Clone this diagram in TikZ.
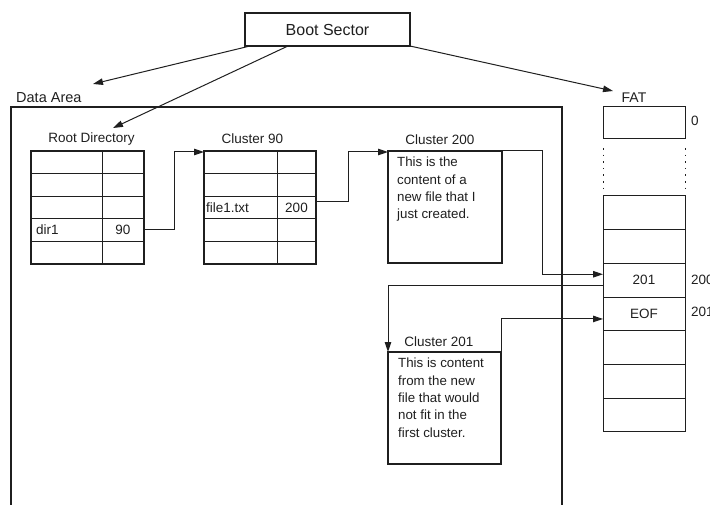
\documentclass[tikz,border=0pt]{standalone}
\usepackage{fontspec}
\setmainfont{Liberation Sans}
\usetikzlibrary{arrows.meta}
\begin{document}
\begin{tikzpicture}[x=1pt,y=-1pt,
  thickbox/.style={draw=black!88,line width=1.8pt,inner sep=0pt,outer sep=0pt},
  thinbox/.style={draw=black!88,line width=1pt,inner sep=0pt,outer sep=0pt},
  thinline/.style={draw=black!88,line width=1pt},
  conn/.style={draw=black!88,line width=1pt,-{Triangle[length=10pt,width=6.5pt]}},
  lbl/.style={text=black!88,font=\fontsize{13.5}{16}\selectfont,inner sep=0pt},
  body/.style={text=black!88,font=\fontsize{13.3}{17.3}\selectfont,inner sep=0pt,align=left,anchor=north west}
]
\useasboundingbox (0,0) rectangle (710,505);
\begin{scope}
\clip (0,0) rectangle (710,505);

% Boot sector
\node[thickbox,minimum width=165pt,minimum height=33pt,font=\fontsize{16}{19}\selectfont,text=black!88] (boot) at (327.5,29.5) {Boot Sector};

% Data area
\node[lbl,font=\fontsize{14.5}{17}\selectfont,anchor=west] (datalbl) at (16,98) {Data Area};
\draw[black!88,line width=1.9pt] (11,520) -- (11,107) -- (562,107) -- (562,520);

% Root directory
\node[lbl] (rootlbl) at (91.5,139) {Root Directory};
\node[thickbox,minimum width=113pt,minimum height=113pt] (root) at (87.5,207.5) {};
\foreach \i in {1,...,4}
  \draw[thinline] ([yshift=-22.6pt*\i]root.north west) -- ([yshift=-22.6pt*\i]root.north east);
\draw[thinline] ([xshift=71pt]root.north west) -- ([xshift=71pt]root.south west);
\node[lbl,anchor=west] (dir1) at (36,230) {dir1};
\node[lbl] (v90) at (123,230) {90};

% Cluster 90
\node[lbl] (c90lbl) at (252.5,139) {Cluster 90};
\node[thickbox,minimum width=112pt,minimum height=113pt] (c90) at (260,207.5) {};
\foreach \i in {1,...,4}
  \draw[thinline] ([yshift=-22.6pt*\i]c90.north west) -- ([yshift=-22.6pt*\i]c90.north east);
\draw[thinline] ([xshift=73pt]c90.north west) -- ([xshift=73pt]c90.south west);
\node[lbl,anchor=west] (file1) at (206,207.5) {file1.txt};
\node[lbl] (v200) at (296.5,207.5) {200};

% Cluster 200
\node[lbl] (c200lbl) at (440,140) {Cluster 200};
\node[thickbox,minimum width=114pt,minimum height=112pt] (c200) at (445,207) {};
\node[body] (c200txt) at (397,157) {This is the\\content of a\\new file that I\\just created.};

% Cluster 201
\node[lbl] (c201lbl) at (439,342) {Cluster 201};
\node[thickbox,minimum width=113pt,minimum height=112pt] (c201) at (444.5,408) {};
\node[body] (c201txt) at (398,358) {This is content\\from the new\\file that would\\not fit in the\\first cluster.};

% FAT
\node[lbl,font=\fontsize{14}{17}\selectfont] (fatlbl) at (634,98) {FAT};
\node[thinbox,minimum width=82pt,minimum height=32pt] (fat0) at (644,123) {};
\node[lbl,anchor=west] (n0) at (691,121) {0};
\draw[black!88,line width=1pt,dash pattern=on 1.6pt off 5pt] (603,148) -- (603,192);
\draw[black!88,line width=1pt,dash pattern=on 1.6pt off 5pt] (685,148) -- (685,192);
\foreach \k in {1,...,7}
  \node[thinbox,minimum width=82pt,minimum height=33.7pt] (fat\k) at (644,{196+33.7*(\k-0.5)}) {};
\node[lbl] (t201) at (fat3) {201};
\node[lbl] (teof) at (fat4) {EOF};
\node[lbl,anchor=west] (n200) at (691,280) {200};
\node[lbl,anchor=west] (n201) at (691,312) {201};

% Arrows from boot sector
\coordinate (datatip) at (93,84);
\coordinate (roottip) at (113,128);
\coordinate (fattip) at (613,91);
\draw[conn] ([xshift=5pt]boot.south west) -- (datatip);
\draw[conn] ([xshift=43pt]boot.south west) -- (roottip);
\draw[conn] (boot.south east) -- (fattip);

% Chain connectors
\draw[conn] ([yshift=-22pt]root.east) -- ++(30,0) |- ([yshift=-1pt]c90.north west);
\draw[conn] ([yshift=5.5pt]c90.east) -- ++(32,0) |- ([yshift=-1pt]c200.north west);
\draw[conn] (c200.north east) -- ++(40,0) |- ([yshift=6pt]fat3.west);
\draw[conn] ([yshift=-5.5pt]fat3.west) -| (c201.north west);
\draw[conn] (c201.north east) |- ([yshift=-5pt]fat4.west);
\end{scope}
\end{tikzpicture}
\end{document}
